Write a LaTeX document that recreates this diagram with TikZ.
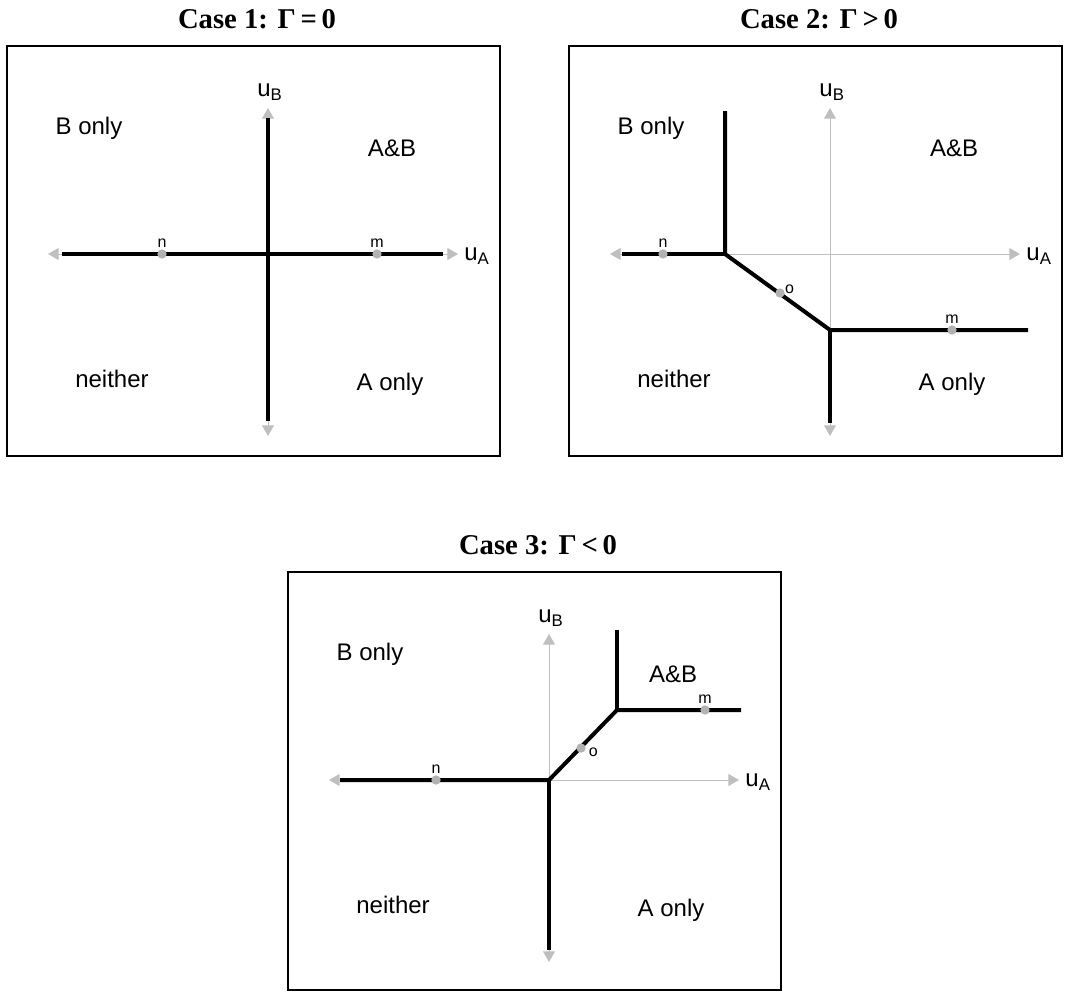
\documentclass[tikz,border=0pt]{standalone}
\usepackage{fontspec}
\setmainfont{Liberation Sans}
\newfontfamily\casefont{Liberation Serif}
\usetikzlibrary{arrows.meta,positioning}
\newcommand{\uvar}[1]{u\textsubscript{#1}}

\begin{document}
\begin{tikzpicture}[x=0.75pt,y=-0.75pt,
    frame/.style={draw,line width=0.9pt},
    axis/.style={draw=gray!50,line width=0.7pt,{Triangle[length=8pt,width=9pt]}-{Triangle[length=8pt,width=9pt]}},
    bound/.style={line width=3pt},
    pt/.style={circle,fill=gray!60,inner sep=0pt,minimum size=7pt},
    ptlabel/.style={font=\fontsize{12}{14}\selectfont,inner sep=1pt},
    region/.style={font=\fontsize{18}{20}\selectfont},
    axlabel/.style={font=\fontsize{18}{20}\selectfont,inner sep=0pt},
    case/.style={font=\casefont\bfseries\fontsize{21.5}{24}\selectfont}]
  \useasboundingbox (0,0) rectangle (1069,1003);
  \foreach \k/\px/\py/\h/\rel in {1/7/46/410/=,2/569/46/410/>,3/288/572/418/<}{
    \begin{scope}[shift={(\px,\py)}]
      \draw[frame] (0,0) rectangle (493,\h);
      \node[case] (case\k) at (250,-27) {Case \k: Γ\,\rel\,0};
      \coordinate (O\k) at (261,208);
      \coordinate (W\k) at (41,208);
      \coordinate (E\k) at (451,208);
      \coordinate (N\k) at (261,62);
      \coordinate (S\k) at (261,390);
      \draw[axis] (W\k) -- (E\k);
      \draw[axis] (S\k) -- (N\k);
      \node[axlabel] (uA\k) at (470,210) {\uvar{A}};
      \node[axlabel] (uB\k) at (263,46) {\uvar{B}};
      \node[region] (bonly\k) at (82,82) {B only};
      \node[region] (ab\k) at (385,102) {A\&B};
      \node[region] (neither\k) at (105,333) {neither};
      \node[region] (aonly\k) at (383,338) {A only};
    \end{scope}
  }
  \begin{scope}[shift={(7,46)}]
    \coordinate (p1w) at (55,208);
    \coordinate (p1e) at (436,208);
    \coordinate (p1n) at (261,72);
    \coordinate (p1s) at (261,375);
    \draw[bound] (p1w) -- (p1e);
    \draw[bound] (p1n) -- (p1s);
    \node[pt] (n1) at (155,208) {};
    \node[pt] (m1) at (370,208) {};
    \node[ptlabel,above=0pt of n1] {n};
    \node[ptlabel,above=0pt of m1] {m};
  \end{scope}
  \begin{scope}[shift={(569,46)}]
    \coordinate (p2n) at (156,65);
    \coordinate (p2b) at (156,208);
    \coordinate (p2w) at (53,208);
    \coordinate (p2c) at (261,284);
    \coordinate (p2e) at (459,284);
    \coordinate (p2s) at (261,377);
    \draw[bound] (p2w) -- (p2b);
    \draw[bound] (p2n) -- (p2b) -- (p2c) -- (p2e);
    \draw[bound] (p2c) -- (p2s);
    \node[pt] (n2) at (94,208) {};
    \node[pt] (o2) at (211,247) {};
    \node[pt] (m2) at (383,284) {};
    \node[ptlabel,above=0pt of n2] {n};
    \node[ptlabel,above right=-4pt and 0pt of o2] {o};
    \node[ptlabel,above=0pt of m2] {m};
  \end{scope}
  \begin{scope}[shift={(288,572)}]
    \coordinate (p3w) at (52,208);
    \coordinate (p3s) at (261,378);
    \coordinate (p3c) at (329,138);
    \coordinate (p3n) at (329,58);
    \coordinate (p3e) at (453,138);
    \draw[bound] (p3w) -- (O3) -- (p3c) -- (p3e);
    \draw[bound] (O3) -- (p3s);
    \draw[bound] (p3c) -- (p3n);
    \node[pt] (n3) at (148,208) {};
    \node[pt] (o3) at (293,176) {};
    \node[pt] (m3) at (417,138) {};
    \node[ptlabel,above=0pt of n3] {n};
    \node[ptlabel,right=1pt of o3,yshift=-3pt] {o};
    \node[ptlabel,above=0pt of m3] {m};
  \end{scope}
\end{tikzpicture}
\end{document}
